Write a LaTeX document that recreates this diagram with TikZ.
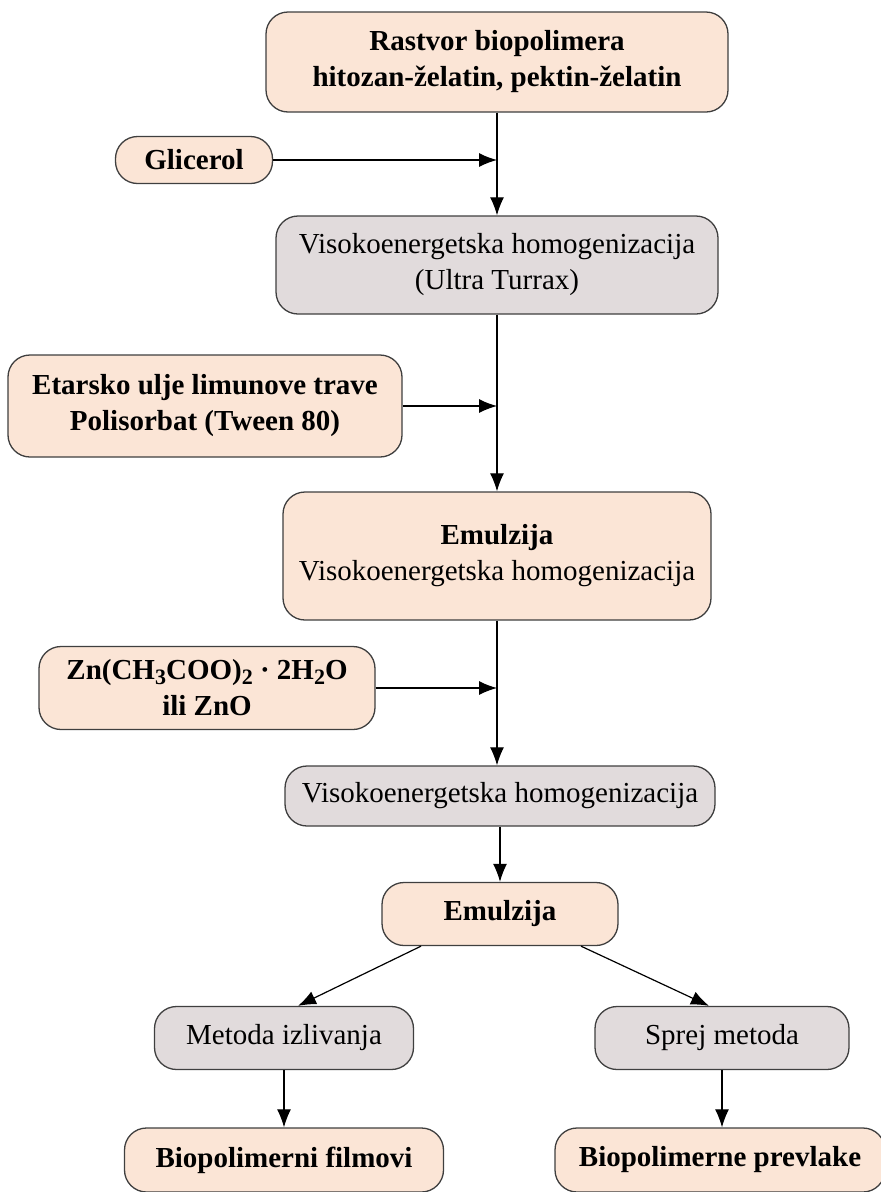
\documentclass[tikz,border=0pt]{standalone}
\usepackage{fontspec}
\setmainfont{Liberation Serif}
\usetikzlibrary{arrows.meta}
\definecolor{peach}{HTML}{FBE5D6}
\definecolor{greybox}{HTML}{E1DBDC}
\definecolor{edgegrey}{HTML}{3F3F3F}
\newcommand{\boxfont}{\fontsize{29}{36}\selectfont}
\newcommand{\chemsub}[1]{\raisebox{-0.15em}{\fontsize{22}{22}\selectfont #1}}

\begin{document}
\begin{tikzpicture}[x=1pt,y=-1pt,line width=1.3pt]
    %
    % `input' is used for the peach boxes, `process' for the grey ones.
    % `flow' is used for all arrows.
    \tikzstyle{input} = [draw=edgegrey,fill=peach,rounded corners=22pt,align=center,inner sep=0pt,font=\boxfont\bfseries]
    \tikzstyle{process} = [draw=edgegrey,fill=greybox,rounded corners=22pt,align=center,inner sep=0pt,font=\boxfont]
    \tikzstyle{flow} = [-{Latex[length=18pt,width=14pt]},black,line width=1.2pt]
    %
    \useasboundingbox (0,0) rectangle (881,1192);
    \clip (0,0) rectangle (881,1192);
    %
    % Main column
    \node[input,minimum width=462,minimum height=100] (rastvor) at (497,62) {Rastvor biopolimera\\hitozan-želatin, pektin-želatin};
    \node[process,minimum width=442,minimum height=98] (ultra) at (497,265) {Visokoenergetska homogenizacija\\(Ultra Turrax)};
    \node[input,font=\boxfont,minimum width=428,minimum height=128] (emul1) at (497,556) {\textbf{Emulzija}\\Visokoenergetska homogenizacija};
    \node[process,minimum width=430,minimum height=60] (homog) at (500,796) {Visokoenergetska homogenizacija};
    \node[input,minimum width=236,minimum height=63] (emul2) at (500,914) {Emulzija};
    %
    % Additions
    \node[input,minimum width=157,minimum height=47] (glicerol) at (194,160) {Glicerol};
    \node[input,minimum width=394,minimum height=102] (etar) at (205,406) {Etarsko ulje limunove trave\\Polisorbat (Tween 80)};
    \node[input,minimum width=336,minimum height=83] (zn) at (207,688) {Zn(CH\chemsub{3}COO)\chemsub{2} · 2H\chemsub{2}O\\ili ZnO};
    %
    % Branches
    \node[process,minimum width=259,minimum height=63] (metoda) at (284,1038) {Metoda izlivanja};
    \node[process,minimum width=254,minimum height=63] (sprej) at (722,1038) {Sprej metoda};
    \node[input,minimum width=319,minimum height=64] (filmovi) at (284,1160) {Biopolimerni filmovi};
    \node[input,minimum width=330,minimum height=64] (prevlake) at (720,1160) {Biopolimerne prevlake};
    %
    % Junctions on the main line
    \coordinate (j1) at (497,160);
    \coordinate (j2) at (497,406);
    \coordinate (j3) at (497,688);
    %
    % Arrows
    \draw[flow] (rastvor) -- (ultra);
    \draw[flow] (ultra) -- (emul1);
    \draw[flow] (emul1.south) -- (emul1.south |- homog.north);
    \draw[flow] (homog) -- (emul2);
    \draw[flow] (glicerol) -- (j1);
    \draw[flow] (etar) -- (j2);
    \draw[flow] (zn) -- (j3);
    \draw[flow] ([xshift=-79]emul2.south) -- ([xshift=14]metoda.north);
    \draw[flow] ([xshift=81]emul2.south) -- ([xshift=-13]sprej.north);
    \draw[flow] (metoda) -- (filmovi);
    \draw[flow] (sprej.south) -- (sprej.south |- prevlake.north);
    %
\end{tikzpicture}
\end{document}
